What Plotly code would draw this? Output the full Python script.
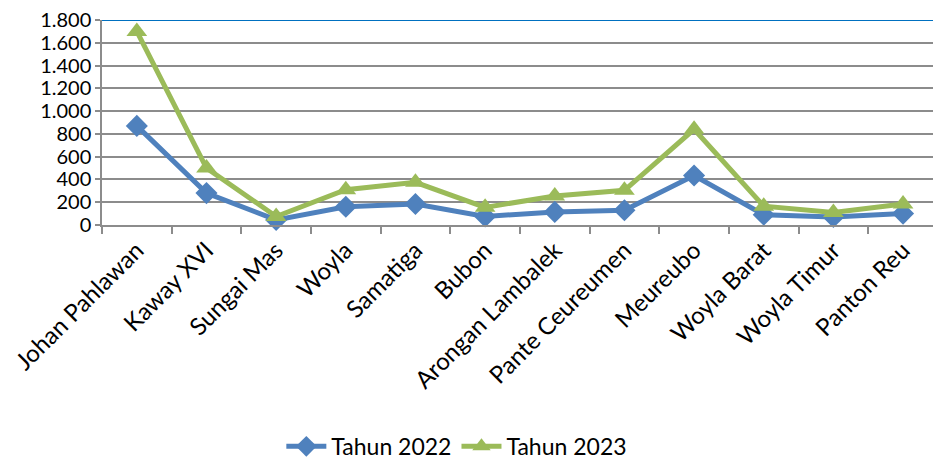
import plotly.graph_objects as go

BLUE = "#4F81BD"
GREEN = "#9BBB59"
GRID = "#8C8C8C"
TOPLINE = "#0070C0"
FONT = "Lato, Carlito, 'Open Sans', sans-serif"

kecamatan = [
    "Johan Pahlawan", "Kaway XVI", "Sungai Mas", "Woyla", "Samatiga", "Bubon",
    "Arongan Lambalek", "Pante Ceureumen", "Meureubo", "Woyla Barat",
    "Woyla Timur", "Panton Reu",
]
tahun_2022 = [870, 280, 45, 160, 185, 75, 115, 130, 435, 90, 70, 100]
tahun_2023 = [1700, 500, 75, 310, 375, 155, 255, 305, 840, 165, 110, 185]
y_ticks = [0, 200, 400, 600, 800, 1000, 1200, 1400, 1600, 1800]

fig = go.Figure()

fig.add_trace(go.Scatter(
    x=kecamatan, y=tahun_2022, name="Tahun 2022", mode="lines+markers",
    line=dict(color=BLUE, width=5),
    marker=dict(symbol="diamond", size=17, color=BLUE),
    cliponaxis=False,
))
fig.add_trace(go.Scatter(
    x=kecamatan, y=tahun_2023, name="Tahun 2023", mode="lines+markers",
    line=dict(color=GREEN, width=5),
    marker=dict(symbol="triangle-up", size=18, color=GREEN),
    cliponaxis=False,
))

# top gridline is drawn blue in the original
fig.add_shape(type="line", xref="paper", x0=0, x1=1, yref="y",
              y0=y_ticks[-1], y1=y_ticks[-1], line=dict(color=TOPLINE, width=2))

fig.update_layout(
    width=933,
    height=459,
    margin=dict(l=102, r=0, t=20, b=234, autoexpand=False),
    paper_bgcolor="white",
    plot_bgcolor="white",
    separators=",.",
    font=dict(family=FONT, size=22, color="black"),
    legend=dict(
        orientation="h",
        x=0.427, xanchor="center", y=-1.08, yanchor="middle",
        font=dict(size=23), itemwidth=40,
    ),
    xaxis=dict(
        type="category",
        range=[-0.5, 11.43],
        tickson="boundaries",
        ticks="outside", ticklen=7, tickcolor=GRID, tickwidth=1.5,
        tickangle=-45,
        tickfont=dict(size=24),
        showgrid=False,
        showline=True, linecolor=GRID, linewidth=1.5,
        zeroline=False,
    ),
    yaxis=dict(
        range=[0, 1800],
        tickvals=y_ticks,
        tickformat=",d",
        tickfont=dict(size=20),
        ticks="outside", ticklen=5, tickcolor=GRID, tickwidth=1.5,
        showgrid=True, gridcolor=GRID, gridwidth=1.5,
        showline=True, linecolor=GRID, linewidth=1.5,
        zeroline=False,
    ),
)

# drop the browser's default body margin so the figure sits at the page corner
fig.write_html(
    "out.html",
    config={"displayModeBar": False},
    post_script="document.body.style.margin='0';",
)
